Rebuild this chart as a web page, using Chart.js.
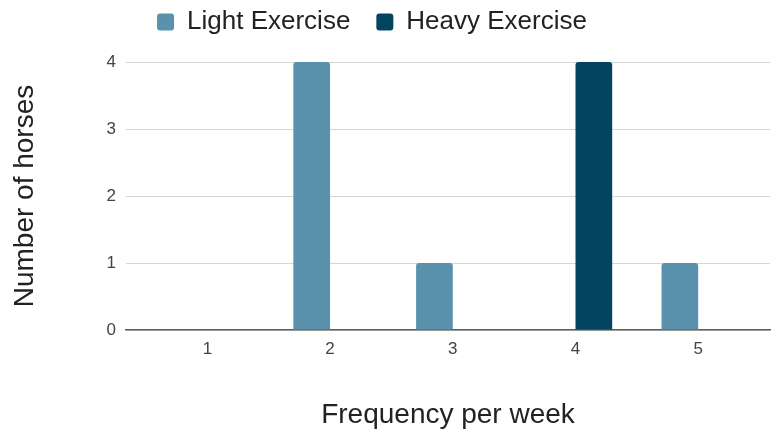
<!DOCTYPE html>
<html>
<head>
<meta charset="utf-8">
<script src="https://cdn.jsdelivr.net/npm/chart.js@4"></script>
<style>
  html, body { margin: 0; padding: 0; background: #fff; }
  #wrap { width: 771px; height: 432px; }
</style>
</head>
<body>
<div id="wrap"><canvas id="c" width="771" height="432"></canvas></div>
<script>
// Exercise frequency per week and how many horses fall into each bin
const frequencies = [1, 2, 3, 4, 5];
const lightExercise = [0, 4, 1, 0, 1];
const heavyExercise = [0, 0, 0, 4, 0];
const yTicks = [0, 1, 2, 3, 4];

const FONT = "'Liberation Sans', Arial, sans-serif";

const toPoints = vals => frequencies.map((f, i) => ({ x: f, y: vals[i] }));

// Reserve a fixed band for the legend above the plot and nudge it into place
const legendBand = {
  id: 'legendBand',
  beforeLayout(chart) {
    const lg = chart.legend;
    if (lg && !lg._bandPatched) {
      const fit = lg.fit;
      lg.fit = function () { fit.call(this); this.height = 62; };
      lg._bandPatched = true;
    }
  },
  afterLayout(chart) {
    const lg = chart.legend;
    if (!lg) return;
    lg.top -= 17; lg.bottom -= 17;
    lg.left -= 13; lg.right -= 13;
  }
};

new Chart(document.getElementById('c'), {
  type: 'bar',
  plugins: [legendBand],
  data: {
    datasets: [
      {
        label: 'Light Exercise',
        data: toPoints(lightExercise),
        backgroundColor: '#5a91ad',
        borderRadius: { topLeft: 3, topRight: 3 },
        borderSkipped: 'bottom',
        barPercentage: 1,
        categoryPercentage: 0.598
      },
      {
        label: 'Heavy Exercise',
        data: toPoints(heavyExercise),
        backgroundColor: '#03455f',
        borderRadius: { topLeft: 3, topRight: 3 },
        borderSkipped: 'bottom',
        barPercentage: 1,
        categoryPercentage: 0.598
      }
    ]
  },
  options: {
    responsive: false,
    animation: false,
    layout: { padding: { top: 0, right: 1, left: 0, bottom: 0 } },
    plugins: {
      tooltip: { enabled: false },
      legend: {
        position: 'top',
        align: 'center',
        labels: {
          font: { family: FONT, size: 26 },
          color: '#222',
          boxWidth: 17,
          boxHeight: 17,
          useBorderRadius: true,
          borderRadius: 3,
          padding: 26
        }
      }
    },
    scales: {
      x: {
        type: 'linear',
        offset: false,
        min: 0.337,
        max: 5.585,
        afterBuildTicks: s => { s.ticks = frequencies.map(v => ({ value: v })); },
        afterFit: s => { s.height = 102; },
        grid: { display: false, drawTicks: false },
        border: { display: true, color: '#5f5f5f', width: 1.5 },
        ticks: {
          font: { family: FONT, size: 17 },
          color: '#444',
          padding: 9,
          callback: v => String(v)
        },
        title: {
          display: true,
          text: 'Frequency per week',
          font: { family: FONT, size: 28 },
          color: '#222',
          padding: { top: 30, bottom: 0 }
        }
      },
      y: {
        min: 0,
        max: 4,
        afterBuildTicks: s => { s.ticks = yTicks.map(v => ({ value: v })); },
        afterFit: s => { s.width = 126; },
        grid: {
          color: '#d6d6d6',
          lineWidth: 1,
          drawTicks: false
        },
        border: { display: false },
        ticks: {
          font: { family: FONT, size: 17 },
          color: '#444',
          padding: 10
        },
        title: {
          display: true,
          text: 'Number of horses',
          font: { family: FONT, size: 28 },
          color: '#222',
          padding: { top: 8, bottom: 20 }
        }
      }
    }
  }
});
</script>
</body>
</html>
